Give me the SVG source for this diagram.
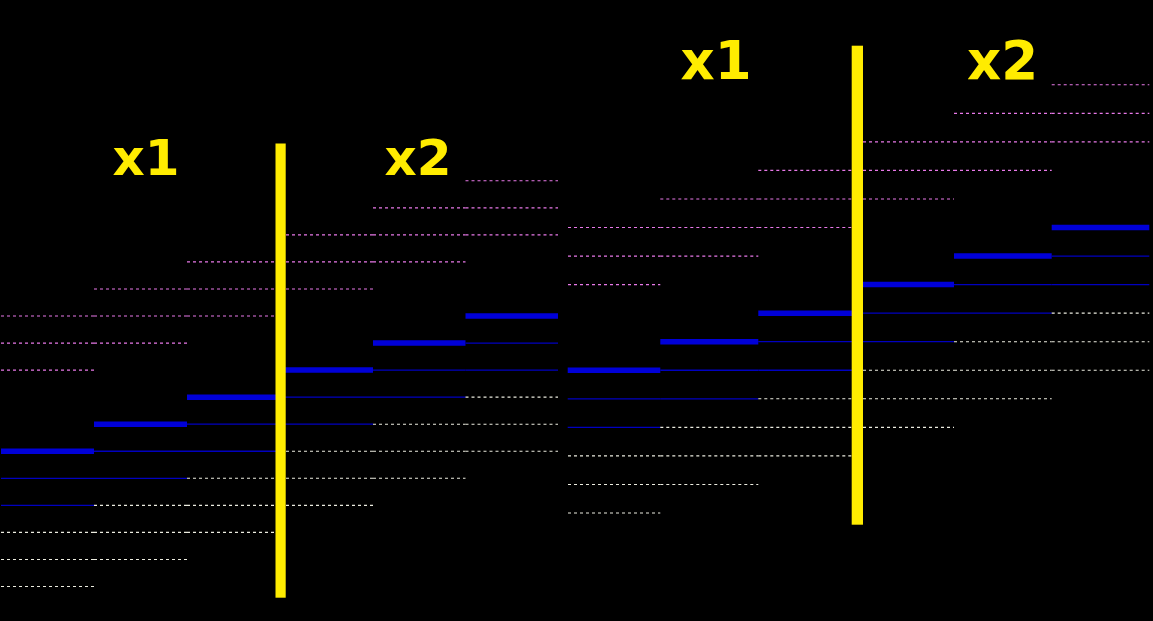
<svg xmlns="http://www.w3.org/2000/svg" width="1153" height="621" viewBox="0 0 1153 621">
<style>
.thick{stroke:#0000d8;stroke-width:5.5;fill:none}
.thin{stroke:#0000c0;stroke-width:1.3;fill:none}
.pk{stroke:#e878e8;stroke-width:1.15;stroke-dasharray:3 3;fill:none}
.wh{stroke:#ecece0;stroke-width:1.1;stroke-dasharray:3 3;fill:none}
.bar{fill:#ffec00}
.lbl{font-family:"DejaVu Sans","Liberation Sans",sans-serif;font-weight:bold;fill:#ffec00}
</style>
<rect width="1153" height="621" fill="#000"/>
<g id="connectors">
<g id="col1">
<path class="pk" d="M1 370.1H94M1 343.05H94M1 316H94"/>
<path class="thick" d="M1 451.25H94"/>
<path class="thin" d="M1 478.3H94M1 505.35H94"/>
<path class="wh" d="M1 532.4H94M1 559.45H94M1 586.5H94"/>
</g>
<g id="col2">
<path class="pk" d="M94 343.05H187M94 316H187M94 288.95H187"/>
<path class="thick" d="M94 424.2H187"/>
<path class="thin" d="M94 451.25H187M94 478.3H187"/>
<path class="wh" d="M94 505.35H187M94 532.4H187M94 559.45H187"/>
</g>
<g id="col3">
<path class="pk" d="M187 316H280M187 288.95H280M187 261.9H280"/>
<path class="thick" d="M187 397.15H280"/>
<path class="thin" d="M187 424.2H280M187 451.25H280"/>
<path class="wh" d="M187 478.3H280M187 505.35H280M187 532.4H280"/>
</g>
<g id="col4">
<path class="pk" d="M286 288.95H373M286 261.9H373M286 234.85H373"/>
<path class="thick" d="M280 370.1H373"/>
<path class="thin" d="M280 397.15H373M280 424.2H373"/>
<path class="wh" d="M286 451.25H373M286 478.3H373M286 505.35H373"/>
</g>
<g id="col5">
<path class="pk" d="M373 261.9H465.5M373 234.85H465.5M373 207.8H465.5"/>
<path class="thick" d="M373 343.05H465.5"/>
<path class="thin" d="M373 370.1H465.5M373 397.15H465.5"/>
<path class="wh" d="M373 424.2H465.5M373 451.25H465.5M373 478.3H465.5"/>
</g>
<g id="col6">
<path class="pk" d="M465.5 234.85H558M465.5 207.8H558M465.5 180.75H558"/>
<path class="thick" d="M465.5 316H558"/>
<path class="thin" d="M465.5 343.05H558M465.5 370.1H558"/>
<path class="wh" d="M465.5 397.15H558M465.5 424.2H558M465.5 451.25H558"/>
</g>
<g id="col7">
<path class="pk" d="M568 284.6H660.3M568 256.05H660.3M568 227.5H660.3"/>
<path class="thick" d="M567.7 370.25H660.3"/>
<path class="thin" d="M567.7 398.8H660.3M567.7 427.35H660.3"/>
<path class="wh" d="M568 455.9H660.3M568 484.45H660.3M568 513H660.3"/>
</g>
<g id="col8">
<path class="pk" d="M660.3 256.05H758.3M660.3 227.5H758.3M660.3 198.95H758.3"/>
<path class="thick" d="M660.3 341.7H758.3"/>
<path class="thin" d="M660.3 370.25H758.3M660.3 398.8H758.3"/>
<path class="wh" d="M660.3 427.35H758.3M660.3 455.9H758.3M660.3 484.45H758.3"/>
</g>
<g id="col9">
<path class="pk" d="M758.3 227.5H857M758.3 198.95H857M758.3 170.4H857"/>
<path class="thick" d="M758.3 313.15H857"/>
<path class="thin" d="M758.3 341.7H857M758.3 370.25H857"/>
<path class="wh" d="M758.3 398.8H857M758.3 427.35H857M758.3 455.9H857"/>
</g>
<g id="col10">
<path class="pk" d="M863 198.95H954M863 170.4H954M863 141.85H954"/>
<path class="thick" d="M857 284.6H954"/>
<path class="thin" d="M857 313.15H954M857 341.7H954"/>
<path class="wh" d="M863 370.25H954M863 398.8H954M863 427.35H954"/>
</g>
<g id="col11">
<path class="pk" d="M954 170.4H1051.7M954 141.85H1051.7M954 113.3H1051.7"/>
<path class="thick" d="M954 256.05H1051.7"/>
<path class="thin" d="M954 284.6H1051.7M954 313.15H1051.7"/>
<path class="wh" d="M954 341.7H1051.7M954 370.25H1051.7M954 398.8H1051.7"/>
</g>
<g id="col12">
<path class="pk" d="M1051.7 141.85H1149.3M1051.7 113.3H1149.3M1051.7 84.75H1149.3"/>
<path class="thick" d="M1051.7 227.5H1149.3"/>
<path class="thin" d="M1051.7 256.05H1149.3M1051.7 284.6H1149.3"/>
<path class="wh" d="M1051.7 313.15H1149.3M1051.7 341.7H1149.3M1051.7 370.25H1149.3"/>
</g>
</g>
<g id="bar-left"><rect class="bar" x="275.5" y="143.5" width="10.2" height="454.2"/></g>
<g id="bar-right"><rect class="bar" x="851.7" y="45.7" width="11.3" height="479"/></g>
<g id="label-left-x1"><text class="lbl" x="112.5" y="175" font-size="50">x1</text></g>
<g id="label-left-x2"><text class="lbl" x="384.5" y="175" font-size="50">x2</text></g>
<g id="label-right-x1"><text class="lbl" x="680.5" y="79" font-size="53">x1</text></g>
<g id="label-right-x2"><text class="lbl" x="967" y="79" font-size="53">x2</text></g>
</svg>
